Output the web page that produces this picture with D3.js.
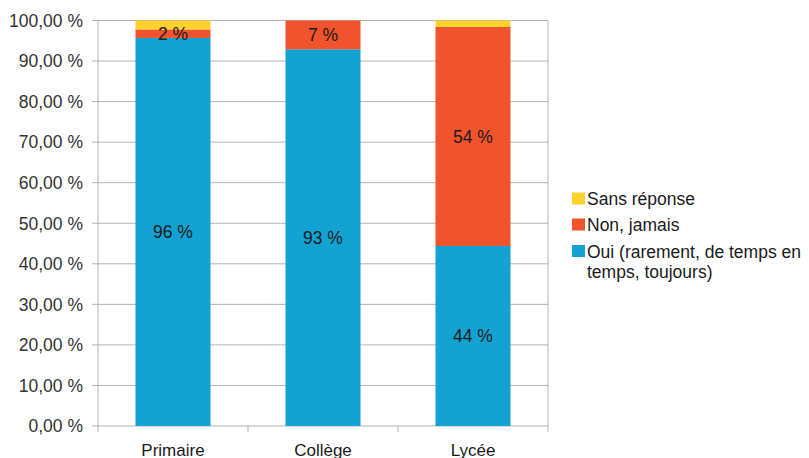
<!DOCTYPE html>
<html>
<head>
<meta charset="utf-8">
<script src="https://cdn.jsdelivr.net/npm/d3@7"></script>
<style>
	body { margin: 0; background: #fff; }
	svg { font-family: "Liberation Sans", Arial, sans-serif; }
</style>
</head>
<body>
<svg width="809" height="458"></svg>
<script>
const categories = ["Primaire", "Collège", "Lycée"];
const seriesNames = ["Oui (rarement, de temps en temps, toujours)", "Non, jamais", "Sans réponse"];
const oui = [95.7, 92.9, 44.4];
const non = [2.1, 7.1, 54.0];
const sansReponse = [2.2, 0, 1.6];
const yTicks = [0, 10, 20, 30, 40, 50, 60, 70, 80, 90, 100];
const colors = ["#12a3d3", "#f1542d", "#fdd22c"];

const svg = d3.select("svg");
const margin = { left: 98, right: 261, top: 20.5, bottom: 32 };
const width = +svg.attr("width"), height = +svg.attr("height");

const x = d3.scaleBand().domain(categories)
	.range([margin.left, width - margin.right])
	.paddingInner(0.5).paddingOuter(0.25);
const y = d3.scaleLinear().domain([0, 100]).range([height - margin.bottom, margin.top]);

// grid
svg.append("g").selectAll("line").data(yTicks).enter().append("line")
	.attr("x1", margin.left - 6).attr("x2", width - margin.right)
	.attr("y1", d => y(d)).attr("y2", d => y(d))
	.attr("stroke", "#b3b3b3").attr("stroke-width", 1);

// vertical frame lines
svg.append("line").attr("x1", margin.left).attr("x2", margin.left)
	.attr("y1", y(100)).attr("y2", y(0) + 6).attr("stroke", "#b3b3b3");
svg.append("line").attr("x1", width - margin.right).attr("x2", width - margin.right)
	.attr("y1", y(100)).attr("y2", y(0) + 6).attr("stroke", "#b3b3b3");
// category separators
const step = x.step();
svg.append("g").selectAll("line").data(categories.slice(1)).enter().append("line")
	.attr("x1", d => x(d) - step * 0.25).attr("x2", d => x(d) - step * 0.25)
	.attr("y1", y(0)).attr("y2", y(0) + 6).attr("stroke", "#b3b3b3");

// y labels
svg.append("g").selectAll("text").data(yTicks).enter().append("text")
	.attr("x", margin.left - 15).attr("y", d => y(d) + 6.3)
	.attr("text-anchor", "end").attr("font-size", 17.5).attr("fill", "#333")
	.text(d => d3.format(".2f")(d).replace(".", ",") + " %");

// stacked data
const rows = categories.map((c, i) => ({ cat: c, s0: oui[i], s1: non[i], s2: sansReponse[i] }));
const stack = d3.stack().keys(["s0", "s1", "s2"])(rows);

const layers = svg.append("g").selectAll("g").data(stack).enter().append("g")
	.attr("fill", (d, i) => colors[i]);
layers.selectAll("rect").data(d => d).enter().append("rect")
	.attr("x", d => x(d.data.cat))
	.attr("width", x.bandwidth())
	.attr("y", d => y(d[1]))
	.attr("height", d => y(d[0]) - y(d[1]));

// value labels (not for "Sans réponse")
stack.slice(0, 2).forEach(layer => {
	svg.append("g").selectAll("text").data(layer.filter(d => d[1] - d[0] > 0)).enter().append("text")
		.attr("x", d => x(d.data.cat) + x.bandwidth() / 2)
		.attr("y", d => (y(d[0]) + y(d[1])) / 2 + 6.5)
		.attr("text-anchor", "middle").attr("font-size", 17.5).attr("fill", "#1a1a1a")
		.text(d => Math.round(d[1] - d[0]) + " %");
});

// x labels
svg.append("g").selectAll("text").data(categories).enter().append("text")
	.attr("x", d => x(d) + x.bandwidth() / 2).attr("y", height - 2.5)
	.attr("text-anchor", "middle").attr("font-size", 17).attr("fill", "#1a1a1a")
	.text(d => d);

// legend
const legendItems = [
	{ color: colors[2], lines: ["Sans réponse"], y: 199 },
	{ color: colors[1], lines: ["Non, jamais"], y: 225 },
	{ color: colors[0], lines: ["Oui (rarement, de temps en", "temps, toujours)"], y: 251.5 }
];
const lg = svg.append("g").selectAll("g").data(legendItems).enter().append("g");
lg.append("rect").attr("x", 572).attr("y", d => d.y - 6.5).attr("width", 13).attr("height", 12)
	.attr("fill", d => d.color);
lg.append("text").attr("font-size", 17.5).attr("fill", "#1a1a1a")
	.selectAll("tspan").data(d => d.lines.map((l, i) => ({ l, i, y: d.y }))).enter().append("tspan")
	.attr("x", 587).attr("y", d => d.y + 6 + d.i * 20)
	.text(d => d.l);
</script>
</body>
</html>
